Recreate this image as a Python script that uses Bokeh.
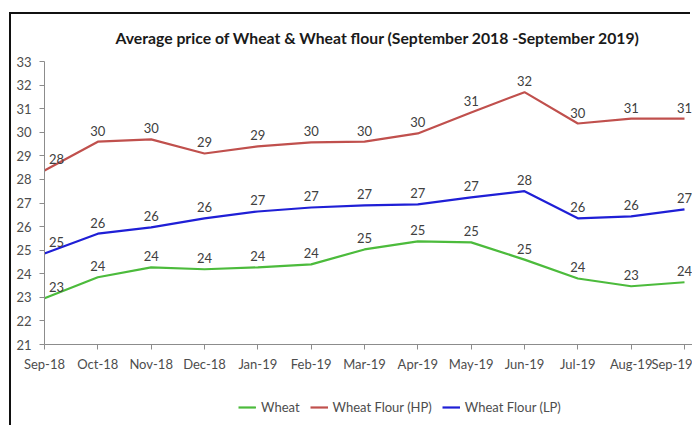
from bokeh.plotting import figure
from bokeh.models import Range1d, FixedTicker, Legend, LegendItem, ColumnDataSource
from bokeh.layouts import column
from bokeh.embed import file_html
from bokeh.resources import INLINE
from bokeh.core.properties import value

months = ["Sep-18", "Oct-18", "Nov-18", "Dec-18", "Jan-19", "Feb-19", "Mar-19",
          "Apr-19", "May-19", "Jun-19", "Jul-19", "Aug-19", "Sep-19"]
wheat = [22.96, 23.85, 24.27, 24.19, 24.27, 24.40, 25.03, 25.37, 25.33, 24.60, 23.80, 23.47, 23.64]
flour_hp = [28.38, 29.60, 29.70, 29.10, 29.40, 29.57, 29.60, 29.95, 30.84, 31.70, 30.37, 30.58, 30.58]
flour_lp = [24.86, 25.70, 25.97, 26.35, 26.64, 26.81, 26.90, 26.94, 27.24, 27.50, 26.35, 26.43, 26.73]
wheat_lbl = ["23", "24", "24", "24", "24", "24", "25", "25", "25", "25", "24", "23", "24"]
hp_lbl = ["28", "30", "30", "29", "29", "30", "30", "30", "31", "32", "30", "31", "31"]
lp_lbl = ["25", "26", "26", "26", "27", "27", "27", "27", "27", "28", "26", "26", "27"]
y_ticks = list(range(21, 34))

FONT = "Lato"
x = list(range(len(months)))
# first labels sit to the right of the first point, as in the original
label_dx = [12 if i == 0 else 0 for i in x]

p = figure(width=681, height=370, output_backend="svg", toolbar_location=None,
           x_range=Range1d(0, len(months) - 1 + 0.15), y_range=Range1d(21, 33),
           min_border_left=33, min_border_right=0, min_border_top=47, min_border_bottom=40)

p.title.text = "Average price of Wheat & Wheat flour (September 2018 -September 2019)"
p.title.text_font = FONT
p.title.text_font_size = "15.75px"
p.title.text_font_style = "bold"
p.title.text_color = "#1a1a1a"
p.title.align = "left"
p.title.vertical_align = "top"
p.title.offset = 71
p.title.standoff = 25

p.outline_line_color = None
p.grid.visible = False

for ax in (p.xaxis[0], p.yaxis[0]):
    ax.axis_line_color = "#8c8c8c"
    ax.major_tick_line_color = "#8c8c8c"
    ax.major_tick_in = 0
    ax.major_tick_out = 5
    ax.minor_tick_line_color = None
    ax.major_label_text_font = FONT
    ax.major_label_text_font_size = "13px"
    ax.major_label_text_color = "#4d4d4d"

p.xaxis.ticker = FixedTicker(ticks=x)
p.xaxis.major_label_overrides = {i: m for i, m in enumerate(months)}
p.xaxis.major_label_standoff = 6
p.yaxis.ticker = FixedTicker(ticks=y_ticks)
p.yaxis.major_label_standoff = 8

colors = ["#4cbb3c", "#c0504d", "#1f1fd6"]
names = ["Wheat", "Wheat Flour (HP)", "Wheat Flour (LP)"]
series = [(wheat, wheat_lbl), (flour_hp, hp_lbl), (flour_lp, lp_lbl)]
for (vals, lbls), col in zip(series, colors):
    src = ColumnDataSource(dict(x=x, y=vals, t=lbls, dx=label_dx))
    p.line("x", "y", source=src, line_color=col, line_width=2.2)
    p.text("x", "y", text="t", source=src, text_font=value(FONT), text_font_size="13px",
           text_color="#404040", text_align="center", text_baseline="bottom",
           x_offset="dx", y_offset=-6)

# legend strip below the chart (its lines lie outside this strip's visible range)
lg = figure(width=681, height=43, output_backend="svg", toolbar_location=None,
            x_range=Range1d(-10, -9), y_range=Range1d(0, 1),
            x_axis_location=None, y_axis_location=None,
            min_border_left=0, min_border_right=0, min_border_top=0, min_border_bottom=0)
lg.outline_line_color = None
lg.grid.visible = False
items = []
for (vals, _), col, name in zip(series, colors, names):
    r = lg.line(x=x, y=vals, line_color=col, line_width=2.2)
    items.append(LegendItem(label=name, renderers=[r]))
legend = Legend(items=items, orientation="horizontal", location=(194, 10),
                border_line_color=None, background_fill_alpha=0,
                label_text_font=FONT, label_text_font_size="13px", label_text_color="#4d4d4d",
                glyph_width=18, label_standoff=5, spacing=10, margin=0, padding=0)
lg.add_layout(legend)

layout = column(p, lg, spacing=0, margin=(14, 0, 0, 11),
                styles={"box-shadow": "-2px -2px 0 0 #111"})
open("out.html", "w").write(file_html(layout, INLINE))
